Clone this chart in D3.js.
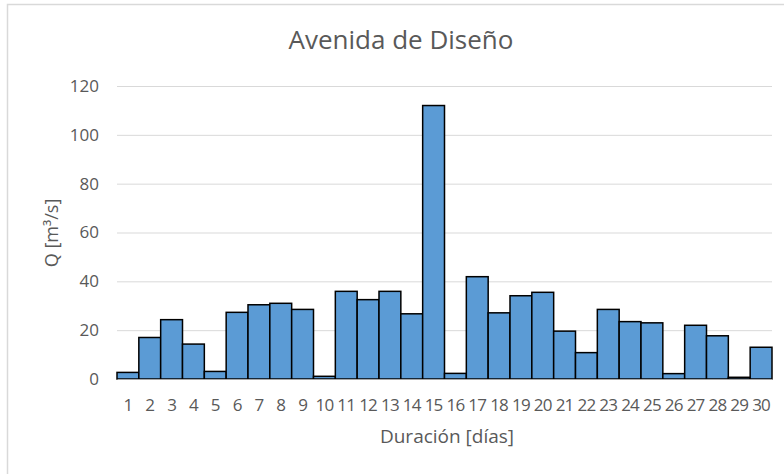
<!DOCTYPE html>
<html lang="es">
<head>
<meta charset="UTF-8">
<title>Avenida de Diseño</title>
<script src="https://cdnjs.cloudflare.com/ajax/libs/d3/7.8.5/d3.min.js"></script>
<style>
  body { margin: 0; background: #fff; }
  svg text { font-family: "Open Sans", "Noto Sans", sans-serif; fill: #595959; }
</style>
</head>
<body>
<svg id="chart"></svg>
<script>
// datos
var dias = d3.range(1, 31)
var caudal = [2.7, 17.0, 24.3, 14.3, 3.1, 27.3, 30.4, 31.0, 28.5, 1.1,
  35.9, 32.5, 35.9, 26.7, 112.0, 2.3, 41.9, 27.1, 34.1, 35.5,
  19.6, 10.8, 28.5, 23.5, 23.0, 2.2, 22.0, 17.7, 0.7, 13.0]
var yTicks = [0, 20, 40, 60, 80, 100, 120]

var W = 784, H = 474
var m = {left: 117, right: 12, top: 86, bottom: 95}

var svg = d3.select("#chart").attr("width", W).attr("height", H)

// marco exterior
svg.append("rect")
  .attr("x", 7.5).attr("y", 4.5)
  .attr("width", W + 10).attr("height", H + 10)
  .attr("fill", "none").attr("stroke", "#d9d9d9").attr("stroke-width", 1.5)

var x = d3.scaleBand()
  .domain(dias)
  .range([m.left, W - m.right])
  .padding(0)

var y = d3.scaleLinear()
  .domain([0, 120])
  .range([H - m.bottom, m.top])

// lineas de cuadricula
svg.append("g")
  .attr("transform", "translate(" + m.left + ",0)")
  .call(d3.axisLeft(y).tickValues(yTicks).tickSize(-(W - m.right - m.left)).tickFormat(""))
  .call(function(g) {
    g.select(".domain").remove()
    g.selectAll("line").attr("stroke", "#d9d9d9").attr("stroke-width", 1)
  })

// etiquetas eje y
svg.append("g")
  .attr("transform", "translate(" + m.left + ",0)")
  .call(d3.axisLeft(y).tickValues(yTicks).tickSize(0).tickPadding(18))
  .call(function(g) {
    g.select(".domain").remove()
    g.selectAll("text").attr("font-size", 17).attr("font-family", null).style("fill", "#595959")
  })

// barras
svg.selectAll("rect.bar")
  .data(caudal).enter()
  .append("rect")
  .attr("class", "bar")
  .attr("x", function(d, i) { return x(dias[i]) })
  .attr("width", x.bandwidth())
  .attr("y", function(d) { return y(d) })
  .attr("height", function(d) { return y(0) - y(d) })
  .attr("fill", "#5b9bd5")
  .attr("stroke", "#000")
  .attr("stroke-width", 1.5)

// eje x
svg.append("g")
  .attr("transform", "translate(0," + y(0) + ")")
  .call(d3.axisBottom(x).tickSize(0).tickPadding(20))
  .call(function(g) {
    g.select(".domain").attr("stroke", "#a6a6a6").attr("stroke-width", 1)
    g.selectAll("text").attr("font-size", 17).attr("font-family", null)
      .attr("letter-spacing", -0.8).style("fill", "#595959")
  })

// titulos
svg.append("text")
  .attr("x", 401).attr("y", 49)
  .attr("text-anchor", "middle")
  .attr("font-size", 26)
  .text("Avenida de Diseño")

svg.append("text")
  .attr("x", 447).attr("y", 443)
  .attr("text-anchor", "middle")
  .attr("font-size", 19)
  .text("Duración [días]")

svg.append("text")
  .attr("transform", "translate(58,233) rotate(-90)")
  .attr("text-anchor", "middle")
  .attr("font-size", 18)
  .text("Q [m³/s]")
</script>
</body>
</html>
